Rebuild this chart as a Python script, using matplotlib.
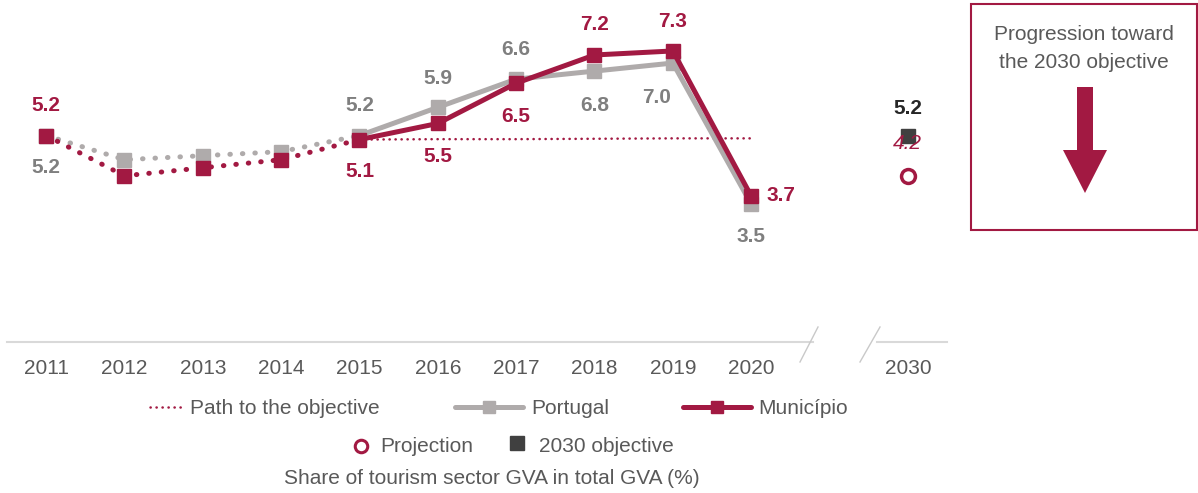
import numpy as np
import matplotlib
matplotlib.use("Agg")
import matplotlib.pyplot as plt
from matplotlib.patches import Rectangle, FancyArrow

plt.rcParams["font.family"] = ["Liberation Sans", "DejaVu Sans"]

# ---------------- data ----------------
years = ["2011", "2012", "2013", "2014", "2015", "2016", "2017", "2018", "2019", "2020"]
municipio = [5.2, 4.2, 4.4, 4.6, 5.1, 5.5, 6.5, 7.2, 7.3, 3.7]
portugal = [5.2, 4.6, 4.7, 4.8, 5.2, 5.9, 6.6, 6.8, 7.0, 3.5]
path_years = ["2015", "2016", "2017", "2018", "2019", "2020"]
path_values = [5.10, 5.11, 5.11, 5.12, 5.13, 5.13]
target_year = "2030"
objective_2030 = 5.2
projection_2030 = 4.2
labelled_years = ["2011", "2015", "2016", "2017", "2018", "2019", "2020"]

# label offsets in pixels (dx, dy), one per labelled year
mun_offsets = [(0, 30), (0, -32), (0, -33), (0, -33), (0, 30), (0, 29), (30, 0)]
por_offsets = [(0, -32), (0, 30), (0, 29), (0, 30), (0, -34), (-16, -34), (0, -32)]

MAROON = "#A21942"
LGRAY = "#AFABAB"
DGRAY = "#7F7F7F"
TXT = "#595959"
DARK = "#404040"
FS = 15

W, H = 1198, 493
fig = plt.figure(figsize=(W / 100, H / 100), dpi=100)

# main axes: x index 0..9 for 2011-2020, 11 for 2030
ax = fig.add_axes([7 / W, (H - 345) / H, 940 / W, 345 / H])
ax.set_xlim(-0.5, 11.5)
ax.set_ylim(0, 8.565)
for s in ax.spines.values():
    s.set_visible(False)
ax.set_yticks([])

x = np.arange(len(years))
split = years.index("2015")
x_target = len(years) + 1

dot = dict(linestyle=(0, (0.1, 2.4)), dash_capstyle="round", lw=3.6)

# Portugal (under)
ax.plot(x[:split + 1], portugal[:split + 1], color=LGRAY, **dot, zorder=2)
ax.plot(x[split:], portugal[split:], color=LGRAY, lw=3.6, solid_capstyle="round", zorder=2)
ax.plot(x, portugal, ls="none", marker="s", ms=10, color=LGRAY, zorder=3)

# Municipio (over)
ax.plot(x[:split + 1], municipio[:split + 1], color=MAROON, **dot, zorder=4)
ax.plot(x[split:], municipio[split:], color=MAROON, lw=3.6, solid_capstyle="round", zorder=4)
ax.plot(x, municipio, ls="none", marker="s", ms=10, color=MAROON, zorder=5)

# path to the objective
px = [years.index(y) for y in path_years]
ax.plot(px, path_values, color=MAROON, lw=1.8, linestyle=(0, (0.1, 2.3)),
        dash_capstyle="round", zorder=1)

# 2030 objective and projection
ax.plot([x_target], [objective_2030], ls="none", marker="s", ms=10, color=DARK, zorder=5)
ax.plot([x_target], [projection_2030], ls="none", marker="o", ms=10, mfc="white",
        mec=MAROON, mew=2.5, zorder=5)

# data labels
for yr, (dx, dy) in zip(labelled_years, mun_offsets):
    i = years.index(yr)
    ax.annotate(f"{municipio[i]:.1f}", (i, municipio[i]), xytext=(dx, dy),
                textcoords="offset pixels", ha="center", va="center",
                fontsize=FS, fontweight="bold", color=MAROON, zorder=6)
for yr, (dx, dy) in zip(labelled_years, por_offsets):
    i = years.index(yr)
    ax.annotate(f"{portugal[i]:.1f}", (i, portugal[i]), xytext=(dx, dy),
                textcoords="offset pixels", ha="center", va="center",
                fontsize=FS, fontweight="bold", color=DGRAY, zorder=6)
ax.annotate(f"{objective_2030:.1f}", (x_target, objective_2030), xytext=(0, 27),
            textcoords="offset pixels", ha="center", va="center",
            fontsize=FS, fontweight="bold", color="#262626", zorder=6)
ax.annotate(f"{projection_2030:.1f}", (x_target, projection_2030), xytext=(0, 32),
            textcoords="offset pixels", ha="center", va="center",
            fontsize=FS, fontstyle="italic", color=MAROON, zorder=6)

ax.set_xticks(list(x) + [x_target], years + [target_year])
ax.tick_params(axis="x", length=0, pad=10, labelsize=FS, labelcolor=TXT)

# ---------------- overlay in pixel coordinates ----------------
ov = fig.add_axes([0, 0, 1, 1])
ov.set_xlim(0, W)
ov.set_ylim(H, 0)
ov.axis("off")

# broken x axis line
ov.plot([7, 813], [342, 342], color="#D9D9D9", lw=1.5)
ov.plot([877, 947], [342, 342], color="#D9D9D9", lw=1.5)
ov.plot([800, 818], [362, 327], color="#C9C9C9", lw=1)
ov.plot([860, 880], [362, 327], color="#C9C9C9", lw=1)

# right box
ov.add_patch(Rectangle((971, 4), 226, 226, fill=False, edgecolor=MAROON, lw=1.5))
ov.text(1084, 35, "Progression toward", ha="center", va="center", fontsize=FS, color=TXT)
ov.text(1084, 63, "the 2030 objective", ha="center", va="center", fontsize=FS, color=TXT)
ov.add_patch(FancyArrow(1085, 87, 0, 106, width=16, head_width=44, head_length=43,
                        length_includes_head=True, color=MAROON, lw=0))

# legend row 1
ov.plot([150, 182], [407, 407], color=MAROON, lw=1.8, linestyle=(0, (0.1, 2.3)),
        dash_capstyle="round")
ov.text(190, 408, "Path to the objective", ha="left", va="center", fontsize=FS, color=TXT)
ov.plot([455, 523], [407, 407], color=LGRAY, lw=3.6, solid_capstyle="round")
ov.plot([489], [407], marker="s", ms=8, color=LGRAY)
ov.text(531, 408, "Portugal", ha="left", va="center", fontsize=FS, color=TXT)
ov.plot([683, 751], [407, 407], color=MAROON, lw=3.6, solid_capstyle="round")
ov.plot([717], [407], marker="s", ms=8, color=MAROON)
ov.text(758, 408, "Município", ha="left", va="center", fontsize=FS, color=TXT)

# legend row 2
ov.plot([361], [446], marker="o", ms=9, mfc="white", mec=MAROON, mew=2.2)
ov.text(380, 447, "Projection", ha="left", va="center", fontsize=FS, color=TXT)
ov.plot([517], [443], marker="s", ms=10, color=DARK)
ov.text(539, 447, "2030 objective", ha="left", va="center", fontsize=FS, color=TXT)

ov.text(492, 479, "Share of tourism sector GVA in total GVA (%)", ha="center",
        va="center", fontsize=FS, color=TXT)

fig.savefig("out.png", dpi=100)
